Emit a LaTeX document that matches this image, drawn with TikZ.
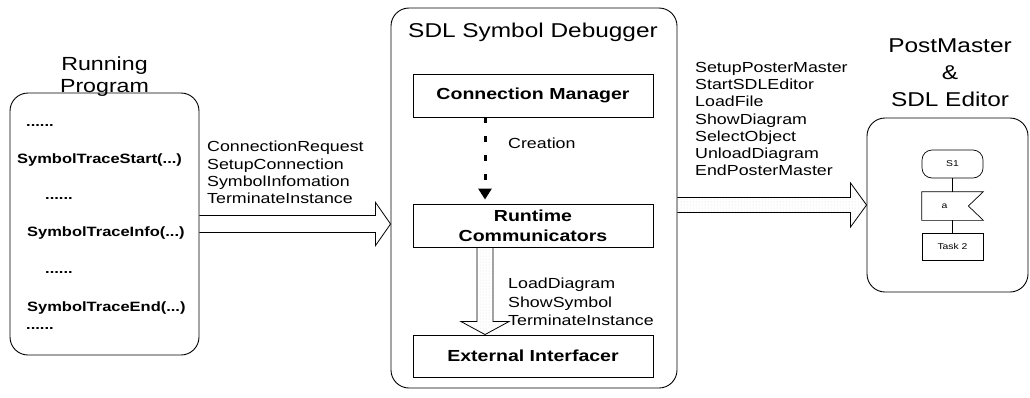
\documentclass[tikz,border=0pt]{standalone}
\usepackage{fontspec}
\setmainfont[FakeStretch=1.22]{Liberation Sans}
\usetikzlibrary{arrows.meta,positioning,calc,patterns,backgrounds}
\tikzset{box/.style={draw,line width=0.9pt,minimum width=240pt,minimum height=43pt,align=center,inner sep=2pt,font=\bfseries\fontsize{16}{20}\selectfont},
  panel/.style={draw,line width=0.9pt,rounded corners=18pt},
  ttl/.style={align=center,inner sep=0pt,font=\fontsize{20}{24}\selectfont},
  msgs/.style={align=left,anchor=west,inner sep=0pt,font=\fontsize{14.6}{17.4}\selectfont},
  call/.style={anchor=west,inner sep=0pt,font=\bfseries\fontsize{13.5}{17}\selectfont},
  hollow/.style={draw,line width=0.8pt},
  stipple/.style={draw,line width=0.8pt,pattern=dots,pattern color=gray!30},
  sym/.style={draw,line width=0.7pt,minimum width=61pt,minimum height=27pt,inner sep=1pt,font=\fontsize{8.5}{11}\selectfont}}

\begin{document}
\begin{tikzpicture}[x=1pt,y=-1pt]
\useasboundingbox (0,0) rectangle (1030,397);
% running program
\node[panel,minimum width=189pt,minimum height=262pt] (prog) at (104.5,224) {};
\node[ttl,font=\fontsize{19}{22}\selectfont,above=-4pt of prog] (progttl) {Running\\Program};
\node[call] (c1) at (26,125) {......};
\node[call] (c2) at (17,160) {SymbolTraceStart(...)};
\node[call] (c3) at (45,198) {......};
\node[call] (c4) at (27,233) {SymbolTraceInfo(...)};
\node[call] (c5) at (45,272) {......};
\node[call] (c6) at (27,308) {SymbolTraceEnd(...)};
\node[call] (c7) at (26,328) {......};

% debugger
\node[panel,minimum width=286pt,minimum height=380pt] (dbg) at (534,198) {};
\node[ttl,anchor=base] (dbgttl) at (533,37) {SDL Symbol Debugger};
\node[box] (cm) at (533,95.5) {Connection Manager};
\node[box] (rc) at (533,225.5) {Runtime\\Communicators};
\node[box,minimum height=42pt] (ei) at (533,356) {External Interfacer};
\draw[line width=3pt,dash pattern=on 6pt off 13pt,-{Triangle[length=11pt,width=13pt]},shorten >=4pt]
  ($(cm.south)+(-48,0)$) -- ($(rc.north)+(-48,0)$);
\node[msgs] (crlbl) at (508,143) {Creation};

% postmaster
\node[panel,minimum width=161pt,minimum height=174pt] (ed) at (947.5,205) {};
\node[ttl,font=\fontsize{20}{27}\selectfont] (edttl) at (950,73) {PostMaster\\\&\\SDL Editor};
\node[sym,rounded corners=10pt,minimum height=28pt] (s1) at (952.5,164) {S1};
\node[sym,draw=none,minimum height=28pt] (sig) at (952.5,206) {a\hspace*{16pt}};
\draw[line width=0.7pt] (sig.north west) -- (sig.north east) -- ($(sig.east)+(-15,0)$)
  -- (sig.south east) -- (sig.south west) -- cycle;
\node[sym] (task) at (952.5,246.5) {Task 2};
\draw[line width=0.7pt] (s1) -- (sig);
\draw[line width=0.7pt] (sig) -- (task);

% big arrows
\coordinate (l0) at (prog.east);
\coordinate (l1) at (dbg.west |- prog.east);
\draw[hollow] ($(l0)+(0,-8.5)$) -- ($(l1)+(-15,-8.5)$) -- ($(l1)+(-15,-21.5)$) -- (l1)
  -- ($(l1)+(-15,21.5)$) -- ($(l1)+(-15,8.5)$) -- ($(l0)+(0,8.5)$);
\node[msgs] (reqlbl) at (207,172.5) {ConnectionRequest\\SetupConnection\\SymbolInfomation\\TerminateInstance};

\begin{scope}[on background layer]
\coordinate (d0) at ($(rc.south)+(-48,0)$);
\coordinate (d1) at ($(ei.north)+(-48,0)$);
\draw[stipple] ($(d0)+(-8,0)$) -- ($(d1)+(-8,-13)$) -- ($(d1)+(-24,-13)$) -- (d1)
  -- ($(d1)+(24,-13)$) -- ($(d1)+(8,-13)$) -- ($(d0)+(8,0)$);
\coordinate (r0) at (dbg.east |- ed.west);
\coordinate (r1) at (ed.west);
\draw[stipple] ($(r0)+(0,-7.5)$) -- ($(r1)+(-16,-7.5)$) -- ($(r1)+(-16,-22)$) -- (r1)
  -- ($(r1)+(-16,22)$) -- ($(r1)+(-16,7.5)$) -- ($(r0)+(0,7.5)$);
\end{scope}
\node[msgs,font=\fontsize{14.6}{18.5}\selectfont] (ldlbl) at (508,302) {LoadDiagram\\ShowSymbol\\TerminateInstance};
\node[msgs,font=\fontsize{14.6}{17.3}\selectfont] (pmlbl) at (695,119) {SetupPosterMaster\\StartSDLEditor\\LoadFile\\ShowDiagram\\SelectObject\\UnloadDiagram\\EndPosterMaster};
\end{tikzpicture}
\end{document}
